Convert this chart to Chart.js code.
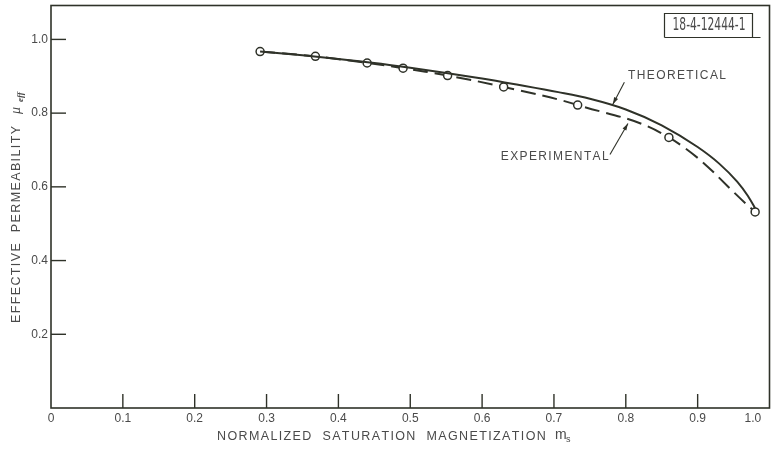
<!DOCTYPE html>
<html>
<head>
<meta charset="utf-8">
<script src="https://cdn.jsdelivr.net/npm/chart.js@4.4.1/dist/chart.umd.min.js"></script>
<style>
  html, body { margin: 0; padding: 0; background: #fff; }
</style>
</head>
<body>
<canvas id="chart" width="775" height="450"></canvas>
<script>
// data
const xTickValues = [0, 0.1, 0.2, 0.3, 0.4, 0.5, 0.6, 0.7, 0.8, 0.9, 1.0];
const yTickValues = [0.2, 0.4, 0.6, 0.8, 1.0];

const expX = [0.291, 0.368, 0.440, 0.490, 0.552, 0.630, 0.733, 0.860, 0.980];
const expY = [0.967, 0.954, 0.936, 0.922, 0.902, 0.871, 0.822, 0.734, 0.532];

const theoX = [0.291, 0.35, 0.40, 0.45, 0.50, 0.55, 0.60, 0.65, 0.706, 0.75, 0.80, 0.85, 0.90, 0.93, 0.955, 0.97, 0.98];
const theoY = [0.967, 0.957, 0.947, 0.936, 0.923, 0.909, 0.894, 0.877, 0.857, 0.839, 0.810, 0.767, 0.708, 0.663, 0.614, 0.575, 0.542];

const ink = '#2f3229';
const textInk = '#4a4a4a';

// draw text char by char so it fills a given width
function spacedText(ctx, text, x, y, width) {
  const natural = ctx.measureText(text).width;
  const gap = text.length > 1 ? (width - natural) / (text.length - 1) : 0;
  let cx = x;
  for (const ch of text) {
    ctx.fillText(ch, cx, y);
    cx += ctx.measureText(ch).width + gap;
  }
  return cx;
}

function arrow(ctx, x1, y1, x2, y2) {
  ctx.beginPath();
  ctx.moveTo(x1, y1);
  ctx.lineTo(x2, y2);
  ctx.stroke();
  const ang = Math.atan2(y2 - y1, x2 - x1);
  const len = 7, wid = 2.2;
  ctx.beginPath();
  ctx.moveTo(x2, y2);
  ctx.lineTo(x2 - len * Math.cos(ang) + wid * Math.sin(ang), y2 - len * Math.sin(ang) - wid * Math.cos(ang));
  ctx.lineTo(x2 - len * Math.cos(ang) - wid * Math.sin(ang), y2 - len * Math.sin(ang) + wid * Math.cos(ang));
  ctx.closePath();
  ctx.fill();
}

const decorations = {
  id: 'decorations',
  afterDraw(chart) {
    const { ctx, chartArea: a, scales: { x, y } } = chart;
    ctx.save();
    ctx.strokeStyle = ink;
    ctx.fillStyle = ink;

    // frame
    ctx.lineWidth = 1.6;
    ctx.strokeRect(a.left, a.top, a.right - a.left, a.bottom - a.top);

    // inward tick marks
    ctx.lineWidth = 1.4;
    xTickValues.forEach(v => {
      if (v <= 0 || v >= 1) return;
      const px = x.getPixelForValue(v);
      ctx.beginPath(); ctx.moveTo(px, a.bottom); ctx.lineTo(px, a.bottom - 14); ctx.stroke();
    });
    yTickValues.forEach(v => {
      const py = y.getPixelForValue(v);
      ctx.beginPath(); ctx.moveTo(a.left, py); ctx.lineTo(a.left + 15, py); ctx.stroke();
    });

    // x axis title
    ctx.fillStyle = textInk;
    ctx.textBaseline = 'middle';
    ctx.textAlign = 'left';
    ctx.font = '12.5px "Liberation Sans", Arial, sans-serif';
    spacedText(ctx, 'NORMALIZED  SATURATION  MAGNETIZATION', 217, 437, 326);
    ctx.font = '14px "Liberation Sans", Arial, sans-serif';
    ctx.fillText('m', 555, 435);
    ctx.font = '9px "Liberation Sans", Arial, sans-serif';
    ctx.fillText('s', 566, 440);

    // y axis title
    ctx.save();
    ctx.translate(20, 323);
    ctx.rotate(-Math.PI / 2);
    ctx.textBaseline = 'alphabetic';
    ctx.font = '12.5px "Liberation Sans", Arial, sans-serif';
    spacedText(ctx, 'EFFECTIVE  PERMEABILITY', 0, 0, 197);
    ctx.font = 'italic 14px "Liberation Serif", serif';
    ctx.fillText('\u03bc', 209, 0);
    ctx.font = 'bold italic 9px "Liberation Serif", serif';
    ctx.fillText('eff', 221, 3);
    ctx.restore();

    // curve labels with arrows
    ctx.font = '12px "Liberation Sans", Arial, sans-serif';
    ctx.textBaseline = 'middle';
    spacedText(ctx, 'THEORETICAL', x.getPixelForValue(0.803), y.getPixelForValue(0.902), 98);
    spacedText(ctx, 'EXPERIMENTAL', x.getPixelForValue(0.626), y.getPixelForValue(0.681), 107);
    ctx.strokeStyle = ink;
    ctx.fillStyle = ink;
    ctx.lineWidth = 1.1;
    arrow(ctx, x.getPixelForValue(0.798), y.getPixelForValue(0.884), x.getPixelForValue(0.782), y.getPixelForValue(0.824));
    arrow(ctx, x.getPixelForValue(0.778), y.getPixelForValue(0.688), x.getPixelForValue(0.803), y.getPixelForValue(0.772));

    // drawing number box
    const bx = a.right - 105, by = a.top + 8;
    ctx.lineWidth = 1.2;
    ctx.beginPath();
    ctx.moveTo(bx, by + 24); ctx.lineTo(bx, by); ctx.lineTo(bx + 88, by); ctx.lineTo(bx + 88, by + 24);
    ctx.moveTo(bx, by + 24); ctx.lineTo(bx + 96, by + 24);
    ctx.stroke();
    ctx.fillStyle = textInk;
    ctx.font = '15px "Liberation Sans Narrow", "DejaVu Sans Condensed", sans-serif';
    const label = '18-4-12444-1';
    const w = ctx.measureText(label).width;
    ctx.save();
    ctx.translate(bx + 8, by + 12);
    ctx.scale(73 / w, 1.2);
    ctx.textBaseline = 'middle';
    ctx.fillText(label, 0, 0);
    ctx.restore();

    ctx.restore();
  }
};

const tickFont = { family: '"Liberation Sans", Arial, sans-serif', size: 12 };

new Chart(document.getElementById('chart'), {
  type: 'scatter',
  data: {
    datasets: [
      {
        label: 'Theoretical',
        data: theoX.map((v, i) => ({ x: v, y: theoY[i] })),
        showLine: true,
        borderColor: ink,
        borderWidth: 2,
        pointRadius: 0,
        cubicInterpolationMode: 'monotone'
      },
      {
        label: 'Experimental',
        data: expX.map((v, i) => ({ x: v, y: expY[i] })),
        showLine: true,
        borderColor: ink,
        borderWidth: 2,
        borderDash: [15, 7],
        tension: 0.4,
        pointRadius: 4,
        pointBorderWidth: 1.5,
        pointBackgroundColor: '#fff',
        pointBorderColor: ink
      }
    ]
  },
  options: {
    responsive: false,
    animation: false,
    layout: { padding: { top: 5, right: 3, left: 0, bottom: 0 } },
    plugins: {
      legend: { display: false },
      tooltip: { enabled: false }
    },
    scales: {
      x: {
        type: 'linear',
        min: 0,
        max: 1.0,
        grid: { display: false, drawTicks: false },
        border: { display: false },
        afterBuildTicks: s => { s.ticks = xTickValues.map(v => ({ value: v })); },
        afterFit: s => { s.height = 42; s.paddingLeft = 0; s.paddingRight = 0; },
        ticks: {
          padding: 3,
          maxRotation: 0,
          autoSkip: false,
          color: textInk,
          font: tickFont,
          callback: v => v === 0 ? '0' : (v === 1 ? '1.0          ' : v.toFixed(1))
        }
      },
      y: {
        type: 'linear',
        min: 0,
        max: 1.092,
        grid: { display: false, drawTicks: false },
        border: { display: false },
        afterBuildTicks: s => { s.ticks = yTickValues.map(v => ({ value: v })); },
        afterFit: s => { s.width = 51; s.paddingTop = 0; s.paddingBottom = 0; },
        ticks: {
          padding: 3,
          autoSkip: false,
          color: textInk,
          font: tickFont,
          callback: v => v.toFixed(1)
        }
      }
    }
  },
  plugins: [decorations]
});
</script>
</body>
</html>
